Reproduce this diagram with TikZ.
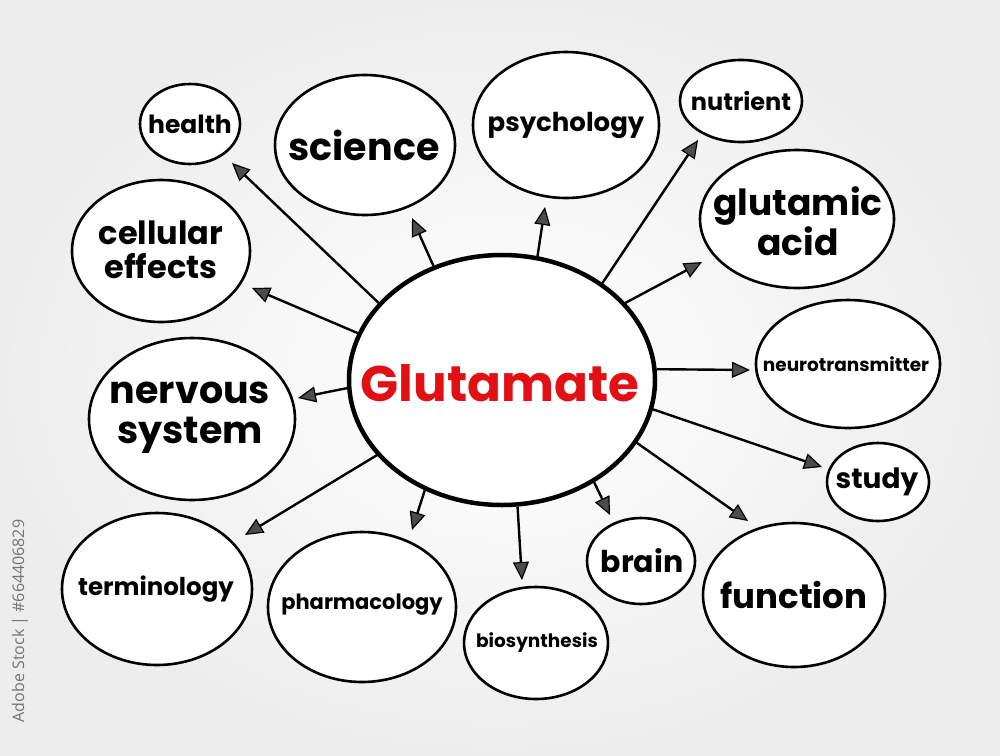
\documentclass[tikz,border=0pt]{standalone}
\usepackage{fontspec}
\setmainfont{Poppins}
\newfontfamily\stockfont{Open Sans}
\usetikzlibrary{shapes.geometric,arrows.meta}
\definecolor{glured}{RGB}{226,16,20}
\begin{document}
\begin{tikzpicture}[x=1pt,y=-1pt,
  idea/.style={ellipse,draw=black,line width=2.6pt,fill=white,inner sep=0pt},
  arr/.style={line width=2.4pt,-{Triangle[length=18pt,width=16pt,fill=black!70,line width=1.2pt]}}]
  \useasboundingbox (0,0) rectangle (1000,755);
  \shade[inner color=white,outer color=black!7] (0,0) rectangle (1000,755);

  % Nodo central
  \node[idea,line width=4.5pt,minimum width=306pt,minimum height=250pt] (glu) at (502,380) {};
  \node[text=glured,font=\fontsize{50}{50}\bfseries] (glut) at (500,383) {Glutamate};

  % Ideas
  \node[idea,minimum width=100pt,minimum height=80pt] (health) at (190,124) {};
  \node[font=\fontsize{25}{25}\bfseries] at (190,124) {health};
  \node[idea,minimum width=180pt,minimum height=140pt] (science) at (365,145) {};
  \node[font=\fontsize{38}{38}\bfseries] at (364,145) {science};
  \node[idea,minimum width=186pt,minimum height=146pt] (psych) at (566,125) {};
  \node[font=\fontsize{26}{26}\bfseries] at (566,125) {psychology};
  \node[idea,minimum width=122pt,minimum height=82pt] (nutrient) at (741,101) {};
  \node[font=\fontsize{24}{24}\bfseries] at (741,101) {nutrient};
  \node[idea,minimum width=194pt,minimum height=138pt] (glutamic) at (797,219) {};
  \node[font=\fontsize{36}{34}\bfseries,align=center] at (798,221) {glutamic\\acid};
  \node[idea,minimum width=178pt,minimum height=142pt] (cellular) at (161,251) {};
  \node[font=\fontsize{32}{34}\bfseries,align=center] at (161,250) {cellular\\effects};
  \node[idea,minimum width=184pt,minimum height=128pt] (neuro) at (848,364) {};
  \node[font=\fontsize{18.5}{18.5}\bfseries] at (846,364) {neurotransmitter};
  \node[idea,minimum width=206pt,minimum height=162pt] (nervous) at (192,419) {};
  \node[font=\fontsize{38}{40}\bfseries,align=center] at (190,418) {nervous\\system};
  \node[idea,minimum width=102pt,minimum height=78pt] (study) at (878,482) {};
  \node[font=\fontsize{28}{28}\bfseries] at (877,482) {study};
  \node[idea,minimum width=190pt,minimum height=152pt] (termin) at (157,589) {};
  \node[font=\fontsize{24.5}{24.5}\bfseries] at (156,589) {terminology};
  \node[idea,minimum width=188pt,minimum height=150pt] (pharma) at (362,607) {};
  \node[font=\fontsize{21}{21}\bfseries] at (362,605) {pharmacology};
  \node[idea,minimum width=144pt,minimum height=112pt] (biosyn) at (536,643) {};
  \node[font=\fontsize{18.5}{18.5}\bfseries] at (537,643) {biosynthesis};
  \node[idea,minimum width=108pt,minimum height=86pt] (brain) at (641,561) {};
  \node[font=\fontsize{30}{30}\bfseries] at (642,561) {brain};
  \node[idea,minimum width=182pt,minimum height=144pt] (function) at (794,595) {};
  \node[font=\fontsize{34}{34}\bfseries] at (794,595) {function};

  % Puntas de flecha
  \coordinate (t1) at (232,163);
  \coordinate (t2) at (412,218);
  \coordinate (t3) at (545,207);
  \coordinate (t4) at (698,140);
  \coordinate (t5) at (702,262);
  \coordinate (t6) at (750,370);
  \coordinate (t7) at (822,467);
  \coordinate (t8) at (748,521);
  \coordinate (t9) at (610,515);
  \coordinate (t10) at (522,580);
  \coordinate (t11) at (412,530);
  \coordinate (t12) at (245,535);
  \coordinate (t13) at (298,398);
  \coordinate (t14) at (252,288);

  % Flechas
  \foreach \ang/\to in {148/t1, 121/t2, 74/t3, 44/t4, 32/t5, 4.5/t6, -11.5/t7,
      -25/t8, -48/t9, -83/t10, -125/t11, 211/t12, 183/t13, 162.5/t14}
    \draw[arr] (glu.\ang) -- (\to);

  % Marca
  \node[rotate=90,text=black!55,font=\stockfont\fontsize{16}{16}\selectfont] (stock) at (20,621) {Adobe Stock | \#664406829};
\end{tikzpicture}
\end{document}
